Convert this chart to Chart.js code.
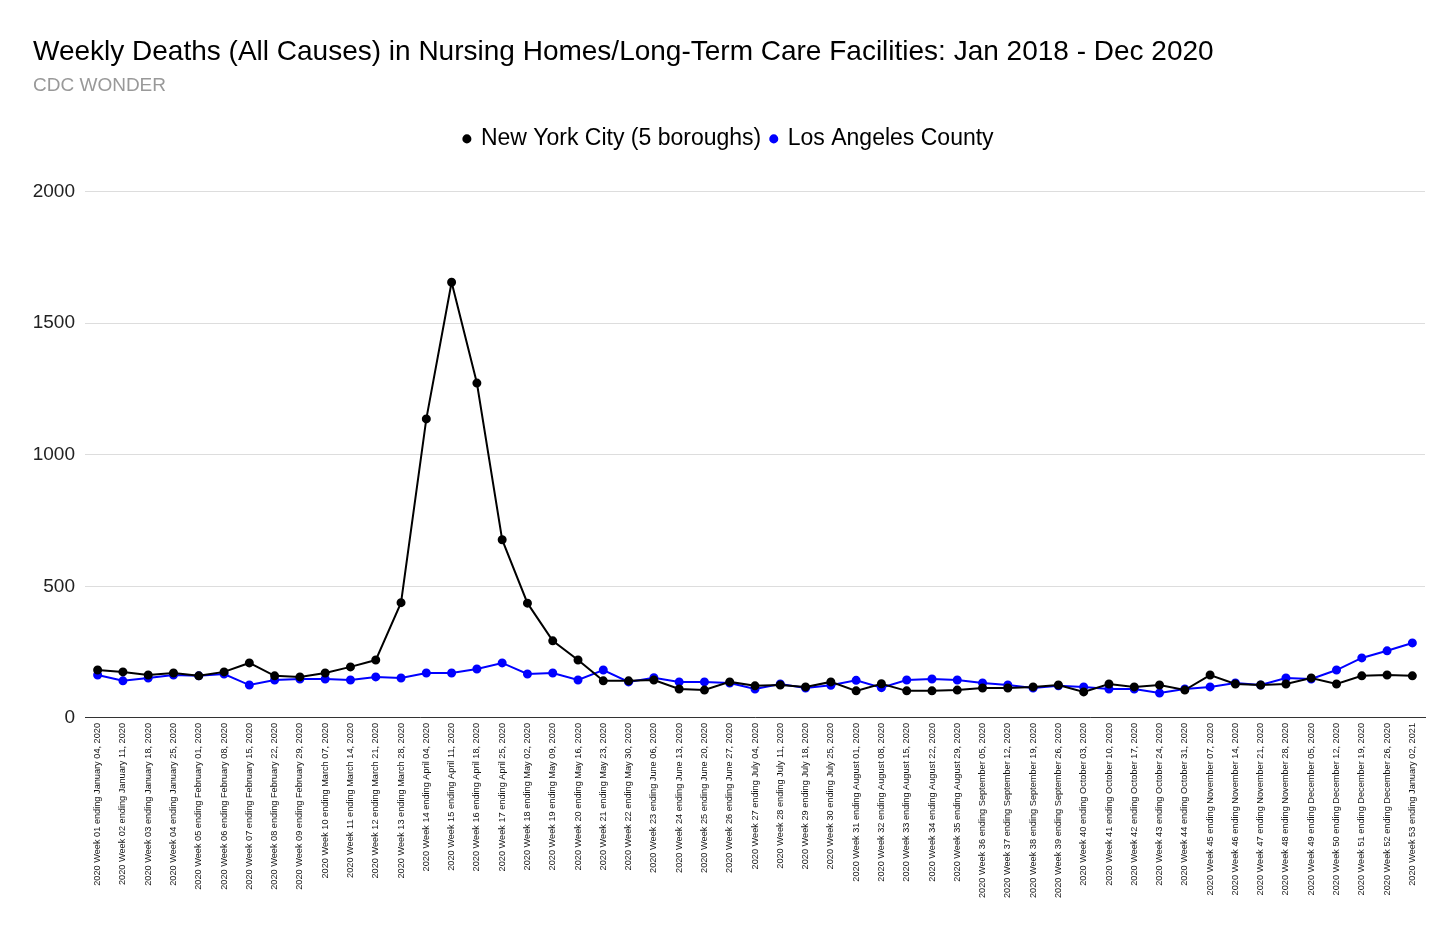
<!DOCTYPE html>
<html>
<head>
<meta charset="utf-8">
<title>Weekly Deaths in Nursing Homes</title>
<script src="https://cdn.jsdelivr.net/npm/chart.js@4"></script>
<style>
    html, body { margin: 0; padding: 0; background: #fff; }
    #wrap { width: 1456px; height: 931px; }
</style>
</head>
<body>
<div id="wrap"><canvas id="grafico"></canvas></div>
<script>
const weekEnding = [
    'January 04, 2020', 'January 11, 2020', 'January 18, 2020', 'January 25, 2020',
    'February 01, 2020', 'February 08, 2020', 'February 15, 2020', 'February 22, 2020',
    'February 29, 2020', 'March 07, 2020', 'March 14, 2020', 'March 21, 2020',
    'March 28, 2020', 'April 04, 2020', 'April 11, 2020', 'April 18, 2020',
    'April 25, 2020', 'May 02, 2020', 'May 09, 2020', 'May 16, 2020',
    'May 23, 2020', 'May 30, 2020', 'June 06, 2020', 'June 13, 2020',
    'June 20, 2020', 'June 27, 2020', 'July 04, 2020', 'July 11, 2020',
    'July 18, 2020', 'July 25, 2020', 'August 01, 2020', 'August 08, 2020',
    'August 15, 2020', 'August 22, 2020', 'August 29, 2020', 'September 05, 2020',
    'September 12, 2020', 'September 19, 2020', 'September 26, 2020', 'October 03, 2020',
    'October 10, 2020', 'October 17, 2020', 'October 24, 2020', 'October 31, 2020',
    'November 07, 2020', 'November 14, 2020', 'November 21, 2020', 'November 28, 2020',
    'December 05, 2020', 'December 12, 2020', 'December 19, 2020', 'December 26, 2020',
    'January 02, 2021'
];

const nycDeaths = [
    182, 175, 163, 171, 160, 175, 209, 160, 156, 171,
    194, 220, 438, 1136, 1655, 1272, 677, 436, 293, 220,
    141, 141, 144, 110, 106, 137, 122, 125, 118, 137,
    103, 130, 103, 103, 106, 114, 114, 118, 125, 99,
    129, 118, 125, 106, 163, 129, 125, 129, 152, 129,
    160, 163, 160
];

const laDeaths = [
    163, 141, 152, 163, 160, 167, 125, 144, 148, 148,
    144, 156, 152, 171, 171, 186, 209, 167, 171, 144,
    182, 137, 153, 137, 137, 133, 110, 129, 114, 124,
    143, 115, 144, 148, 144, 133, 125, 114, 122, 118,
    110, 110, 95, 110, 118, 133, 125, 152, 148, 182,
    228, 255, 285
];

const yTicks = [0, 500, 1000, 1500, 2000];

const semanas = weekEnding.map(function (data, i) {
    const num = String(i + 1).padStart(2, '0');
    return `2020 Week ${num} ending ${data}`;
});

const fonte = 'Arial, "Liberation Sans", sans-serif';

// empurra a area do grafico para baixo da legenda
const espacoLegenda = {
    id: 'espacoLegenda',
    beforeInit: function (chart) {
        const fitOriginal = chart.legend.fit;
        chart.legend.fit = function fit() {
            fitOriginal.bind(chart.legend)();
            this.height += 31;
        };
    }
};

new Chart(document.getElementById('grafico'), {
    type: 'line',
    data: {
        labels: semanas,
        datasets: [
            {
                label: 'New York City (5 boroughs)',
                data: nycDeaths,
                borderColor: '#000000',
                backgroundColor: '#000000',
                borderWidth: 2,
                pointRadius: 3.5,
                pointHoverRadius: 4,
                tension: 0
            },
            {
                label: 'Los Angeles County',
                data: laDeaths,
                borderColor: '#0000ff',
                backgroundColor: '#0000ff',
                borderWidth: 2,
                pointRadius: 3.5,
                pointHoverRadius: 4,
                tension: 0
            }
        ]
    },
    options: {
        responsive: true,
        maintainAspectRatio: false,
        animation: false,
        layout: {
            padding: { left: 33, right: 31, top: 0, bottom: 28 }
        },
        plugins: {
            title: {
                display: true,
                text: 'Weekly Deaths (All Causes) in Nursing Homes/Long-Term Care Facilities: Jan 2018 - Dec 2020',
                align: 'start',
                color: '#000000',
                font: { family: fonte, size: 28, weight: 'normal' },
                padding: { top: 35, bottom: 6 }
            },
            subtitle: {
                display: true,
                text: 'CDC WONDER',
                align: 'start',
                color: '#999999',
                font: { family: fonte, size: 19, weight: 'normal' },
                padding: { top: 0, bottom: 20 }
            },
            legend: {
                position: 'top',
                align: 'center',
                labels: {
                    usePointStyle: true,
                    pointStyle: 'circle',
                    boxWidth: 5,
                    boxHeight: 5,
                    padding: 10,
                    color: '#000000',
                    font: { family: fonte, size: 23 }
                }
            },
            tooltip: { enabled: true }
        },
        scales: {
            x: {
                offset: true,
                grid: { display: false, drawTicks: false, tickLength: 0 },
                border: { display: true, color: '#333333', width: 1 },
                ticks: {
                    autoSkip: false,
                    minRotation: 90,
                    maxRotation: 90,
                    padding: 5,
                    color: '#111111',
                    font: { family: fonte, size: 9.2 }
                }
            },
            y: {
                min: 0,
                max: 2000,
                afterBuildTicks: function (axis) {
                    axis.ticks = yTicks.map(function (v) { return { value: v }; });
                },
                afterFit: function (axis) {
                    axis.width = 52;
                },
                grid: { color: '#dddddd', drawTicks: false },
                border: { display: false },
                ticks: {
                    padding: 10,
                    color: '#222222',
                    font: { family: fonte, size: 19 },
                    callback: function (valor) {
                        return String(valor);
                    }
                }
            }
        }
    },
    plugins: [espacoLegenda]
});
</script>
</body>
</html>
